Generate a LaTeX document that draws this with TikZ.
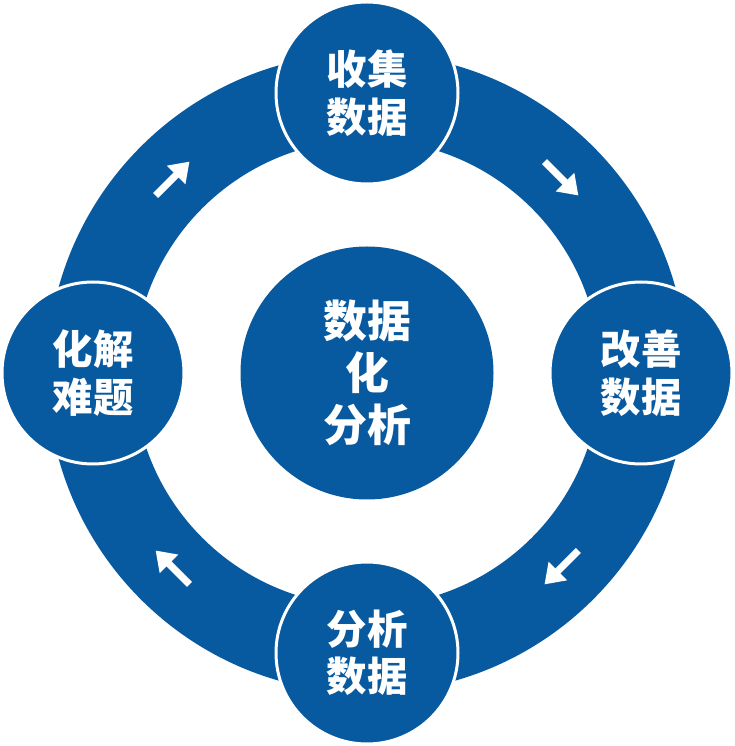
\documentclass[tikz,border=0pt]{standalone}
\usepackage{fontspec}
\newfontfamily\cjk{Noto Sans CJK SC}
\usepackage{xcolor}
\usepackage{tikz}
\usetikzlibrary{arrows.meta,calc}
\definecolor{ringblue}{RGB}{8,90,160}
\tikzset{
  stage/.style={circle, fill=ringblue, draw=white, line width=0.06cm,
    minimum size=3.64cm, text=white, align=center,
    font=\cjk\bfseries\fontsize{23}{27}\selectfont},
  hub/.style={circle, fill=ringblue, minimum size=5.06cm, text=white,
    align=center, font=\cjk\bfseries\fontsize{25}{29.5}\selectfont},
  flowarrow/.style={white, line width=0.14cm,
    -{Triangle[length=0.38cm,width=0.5cm]}}
}

\begin{document}
\begin{tikzpicture}
    \useasboundingbox (0,0) rectangle (14.7,14.92);
    \coordinate (O) at (7.34,7.46);
    % ring
    \draw[ringblue, line width=1.74cm] (O) circle[radius=5.53];
    % direction arrows on the ring
    \foreach \a in {45,135,225,315}
        \draw[flowarrow] ($(O)+(\a:5.5)+(\a-90:-0.48)$) -- ($(O)+(\a:5.5)+(\a-90:0.48)$);
    % stages
    \node[hub] (core) at (O) {数据\\化\\分析};
    \node[stage] (collect) at ($(O)+(90:5.6)$) {收集\\数据};
    \node[stage] (improve) at ($(O)+(0:5.48)$) {改善\\数据};
    \node[stage] (analyse) at ($(O)+(270:5.6)$) {分析\\数据};
    \node[stage] (solve) at ($(O)+(180:5.48)$) {化解\\难题};
\end{tikzpicture}
\end{document}
